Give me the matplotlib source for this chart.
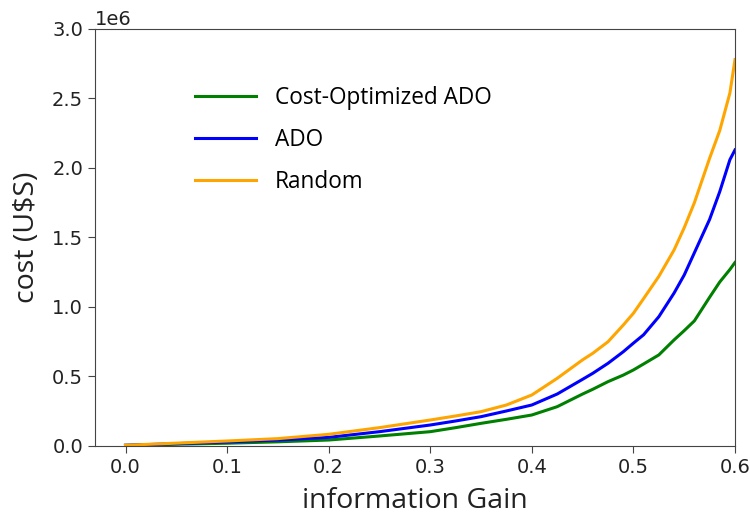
import matplotlib
matplotlib.use("Agg")
import matplotlib.pyplot as plt

x = [0.0, 0.1, 0.15, 0.2, 0.25, 0.3, 0.325, 0.35, 0.375, 0.4, 0.425, 0.45, 0.46, 0.475, 0.49,
     0.5, 0.51, 0.525, 0.54, 0.55, 0.56, 0.575, 0.585, 0.595, 0.6]
cost_opt = [0.005, 0.02, 0.03, 0.043, 0.072, 0.103, 0.132, 0.163, 0.192, 0.223, 0.283, 0.374, 0.408,
            0.463, 0.51, 0.547, 0.59, 0.655, 0.763, 0.83, 0.90, 1.07, 1.18, 1.27, 1.32]
ado = [0.005, 0.029, 0.043, 0.062, 0.103, 0.151, 0.18, 0.211, 0.252, 0.295, 0.374, 0.48, 0.523,
       0.595, 0.678, 0.74, 0.80, 0.93, 1.10, 1.23, 1.39, 1.63, 1.83, 2.06, 2.13]
rand = [0.005, 0.036, 0.053, 0.084, 0.132, 0.187, 0.216, 0.247, 0.295, 0.367, 0.487, 0.62, 0.667,
        0.75, 0.87, 0.955, 1.06, 1.22, 1.41, 1.57, 1.75, 2.07, 2.27, 2.54, 2.78]
scale = 1e6

fig = plt.figure(figsize=(7.5, 5.14), dpi=100)
ax = fig.add_axes([0.1267, 0.1323, 0.8533, 0.8113])
ax.plot(x, [v * scale for v in cost_opt], color='green', lw=2.2, label='Cost-Optimized ADO')
ax.plot(x, [v * scale for v in ado], color='blue', lw=2.2, label='ADO')
ax.plot(x, [v * scale for v in rand], color='orange', lw=2.2, label='Random')
ax.set_xlim(-0.03, 0.6)
ax.set_ylim(0, 3.0e6)
ax.set_xticks([0.0, 0.1, 0.2, 0.3, 0.4, 0.5, 0.6])
ax.tick_params(labelsize=14, colors='#444444', labelcolor='#222222', length=5)
ax.yaxis.get_offset_text().set_fontsize(14)
ax.set_xlabel('information Gain', fontsize=20.5, family='Open Sans', color='#222222', labelpad=7)
ax.set_ylabel('cost (U$S)', fontsize=20.5, family='Open Sans', color='#222222', labelpad=8)
for s in ax.spines.values():
    s.set_color('#444444')
leg = ax.legend(loc='upper left', bbox_to_anchor=(0.124, 0.912), frameon=False,
                labelspacing=0.8, handlelength=2.7, handletextpad=0.85,
                prop={'family': 'Open Sans', 'size': 16.3})
fig.savefig('out.png', dpi=100)
